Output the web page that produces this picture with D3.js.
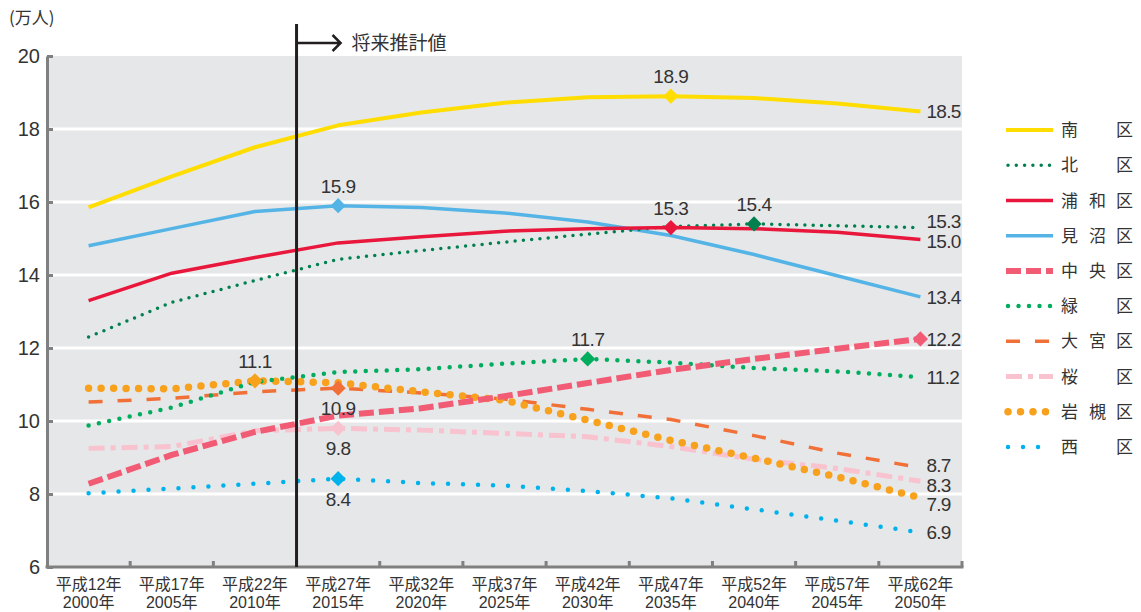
<!DOCTYPE html>
<html lang="ja">
<head>
<meta charset="utf-8">
<script src="https://cdn.jsdelivr.net/npm/d3@7/dist/d3.min.js"></script>
<style>
  html, body { margin: 0; padding: 0; background: #fff; }
  svg { display: block; font-family: "Noto Sans CJK JP", "Noto Sans", sans-serif; }
  .num { font-family: "Liberation Sans", "Noto Sans CJK JP", sans-serif; }
</style>
</head>
<body>
<svg id="chart" width="1141" height="612"></svg>
<script>
/* --- Data (万人) --- */
const years = ["2000", "2005", "2010", "2015", "2020", "2025", "2030", "2035", "2040", "2045", "2050"];
const heiseiLabels = ["平成12年", "平成17年", "平成22年", "平成27年", "平成32年", "平成37年", "平成42年", "平成47年", "平成52年", "平成57年", "平成62年"];
const yTicks = [6, 8, 10, 12, 14, 16, 18, 20];

const minami   = [15.85, 16.7, 17.5, 18.1, 18.45, 18.72, 18.87, 18.9, 18.85, 18.7, 18.48];
const kita     = [12.3, 13.25, 13.85, 14.43, 14.67, 14.9, 15.12, 15.33, 15.4, 15.35, 15.3];
const urawa    = [13.3, 14.05, 14.48, 14.88, 15.05, 15.2, 15.27, 15.3, 15.27, 15.17, 14.97];
const minuma   = [14.8, 15.27, 15.74, 15.9, 15.85, 15.7, 15.45, 15.08, 14.56, 13.98, 13.4];
const chuo     = [8.28, 9.07, 9.7, 10.15, 10.35, 10.68, 11.04, 11.4, 11.7, 11.98, 12.25];
const midori   = [9.88, 10.37, 11.07, 11.34, 11.42, 11.57, 11.7, 11.6, 11.45, 11.36, 11.2];
const omiya    = [10.52, 10.62, 10.8, 10.9, 10.77, 10.6, 10.32, 10.04, 9.6, 9.12, 8.72];
const sakura   = [9.25, 9.3, 9.73, 9.8, 9.75, 9.66, 9.57, 9.3, 8.95, 8.7, 8.35];
const iwatsuki = [10.9, 10.88, 11.1, 11.05, 10.8, 10.57, 10.02, 9.47, 8.98, 8.47, 7.9];
const nishi    = [8.02, 8.15, 8.28, 8.42, 8.3, 8.23, 8.08, 7.88, 7.58, 7.27, 6.95];

// legend name pieces (first, middle, last char)
const wardNames = [["南", "", "区"], ["北", "", "区"], ["浦", "和", "区"], ["見", "沼", "区"], ["中", "央", "区"],
                   ["緑", "", "区"], ["大", "宮", "区"], ["桜", "", "区"], ["岩", "槻", "区"], ["西", "", "区"]];

/* --- Series styles --- */
const series = [
  { values: minami,   color: "#ffdd00", width: 4,   dash: null,      cap: "butt",  peak: 7, peakPos: "above", end: "18.5", endDy: 0 },
  { values: kita,     color: "#00804f", width: 3.5, dash: "0 8.3",   cap: "round", peak: 8, peakPos: "above", end: "15.3", endDy: -6 },
  { values: urawa,    color: "#e8173b", width: 3.5, dash: null,      cap: "butt",  peak: 7, peakPos: "above", end: "15.0", endDy: 2 },
  { values: minuma,   color: "#55b4e6", width: 3.5, dash: null,      cap: "butt",  peak: 3, peakPos: "above", end: "13.4", endDy: 0 },
  { values: chuo,     color: "#f15b74", width: 6,   dash: "15 5",    cap: "butt",  peak: 10, peakPos: "right", end: "12.2", endDy: 0 },
  { values: midori,   color: "#00ad5e", width: 4.5, dash: "0 10.5",  cap: "round", peak: 6, peakPos: "above", end: "11.2", endDy: 0 },
  { values: omiya,    color: "#f07038", width: 3.5, dash: "14 15",   cap: "butt",  peak: 3, peakPos: "below", end: "8.7",  endDy: -2.5 },
  { values: sakura,   color: "#f8c2cf", width: 5,   dash: "16 6 5 6", cap: "butt", peak: 3, peakPos: "below", end: "8.3",  endDy: 4 },
  { values: iwatsuki, color: "#f7a11c", width: 7.5, dash: "0 12.5",  cap: "round", peak: 2, peakPos: "above", end: "7.9",  endDy: 7 },
  { values: nishi,    color: "#00b2ec", width: 4.5, dash: "0 15",    cap: "round", peak: 3, peakPos: "below", end: "6.9",  endDy: 0 }
];

/* --- Layout --- */
const svg = d3.select("#chart");
const plotLeft = 47, plotRight = 962, plotTop = 56, plotBottom = 567;
const textColor = "#333";

const x = d3.scaleBand().domain(years).range([plotLeft, plotRight]).padding(0);
const y = d3.scaleLinear().domain([6, 20]).range([plotBottom, plotTop]);
const cx = d => x(d) + x.bandwidth() / 2;

// plot background
svg.append("rect")
  .attr("x", plotLeft).attr("y", plotTop)
  .attr("width", plotRight - plotLeft).attr("height", plotBottom - plotTop)
  .attr("fill", "#e6e7e9");

// grid lines
svg.append("g").selectAll("line")
  .data(yTicks.filter(t => t > 6 && t < 20))
  .join("line")
  .attr("x1", plotLeft).attr("x2", plotRight)
  .attr("y1", d => y(d)).attr("y2", d => y(d))
  .attr("stroke", "#fff").attr("stroke-width", 3);

// y axis
const yAxis = svg.append("g")
  .attr("transform", `translate(${plotLeft},0)`)
  .call(d3.axisRight(y).tickValues(yTicks).tickSize(6).tickSizeOuter(0).tickFormat(""));
yAxis.select(".domain").attr("stroke", "#808080").attr("stroke-width", 3);
yAxis.selectAll(".tick line").attr("stroke", "#808080").attr("stroke-width", 3);

svg.append("g").selectAll("text")
  .data(yTicks)
  .join("text")
  .attr("class", "num")
  .attr("x", 40).attr("y", d => y(d))
  .attr("dy", "0.35em")
  .attr("text-anchor", "end")
  .attr("font-size", 20)
  .attr("fill", textColor)
  .text(d => d);

svg.append("text")
  .attr("x", 9).attr("y", 24)
  .attr("font-size", 17)
  .attr("fill", textColor)
  .text("(万人)");

// x axis (ticks on band boundaries, pointing up)
const bounds = years.map(d => x(d)).concat([plotRight]);
svg.append("g").selectAll("line")
  .data(bounds.slice(1))
  .join("line")
  .attr("x1", d => d).attr("x2", d => d)
  .attr("y1", plotBottom).attr("y2", plotBottom - 6)
  .attr("stroke", "#808080").attr("stroke-width", 3);
svg.append("line")
  .attr("x1", plotLeft - 1.5).attr("x2", plotRight + 1.5)
  .attr("y1", plotBottom).attr("y2", plotBottom)
  .attr("stroke", "#808080").attr("stroke-width", 3);

// two-line category labels
const xl = svg.append("g").selectAll("g")
  .data(years)
  .join("g")
  .attr("transform", d => `translate(${cx(d)},0)`);
xl.append("text")
  .attr("class", "num")
  .attr("y", 590).attr("text-anchor", "middle")
  .attr("font-size", 16).attr("fill", textColor)
  .text((d, i) => heiseiLabels[i]);
xl.append("text")
  .attr("class", "num")
  .attr("y", 608).attr("text-anchor", "middle")
  .attr("font-size", 16).attr("fill", textColor)
  .text(d => d + "年");

/* --- Lines (drawn back to front) --- */
const line = d3.line()
  .x((d, i) => cx(years[i]))
  .y(d => y(d));

const drawOrder = [9, 7, 6, 8, 5, 4, 3, 1, 2, 0];
drawOrder.forEach(k => {
  const s = series[k];
  svg.append("path")
    .datum(s.values)
    .attr("d", line)
    .attr("fill", "none")
    .attr("stroke", s.color)
    .attr("stroke-width", s.width)
    .attr("stroke-linecap", s.cap)
    .attr("stroke-linejoin", "round")
    .attr("stroke-dasharray", s.dash);
});

// forecast divider
const divX = x("2015");
svg.append("line")
  .attr("x1", divX).attr("x2", divX)
  .attr("y1", 24).attr("y2", plotBottom)
  .attr("stroke", "#231f20").attr("stroke-width", 3);
svg.append("path")
  .attr("d", `M${divX},43H${divX + 44}M${divX + 36},35L${divX + 44},43L${divX + 36},51`)
  .attr("fill", "none")
  .attr("stroke", "#231f20").attr("stroke-width", 2.5);
svg.append("text")
  .attr("x", divX + 55).attr("y", 50)
  .attr("font-size", 19).attr("fill", textColor)
  .text("将来推計値");

/* --- Peak markers & labels --- */
const diamond = d3.symbol().type(d3.symbolSquare).size(115);
series.forEach(s => {
  const px = cx(years[s.peak]);
  const v = s.values[s.peak];
  svg.append("path")
    .attr("d", diamond())
    .attr("transform", `translate(${px},${y(v)}) rotate(45)`)
    .attr("fill", s.color);
  if (s.peakPos === "right") return;
  svg.append("text")
    .attr("class", "num")
    .attr("x", px)
    .attr("y", s.peakPos === "above" ? y(v) - 13 : y(v) + 27)
    .attr("text-anchor", "middle")
    .attr("font-size", 19)
    .attr("letter-spacing", -0.5)
    .attr("fill", textColor)
    .text(d3.format(".1f")(Math.round(v * 10) / 10));
});

// end labels
series.forEach(s => {
  svg.append("text")
    .attr("class", "num")
    .attr("x", cx(years[years.length - 1]) + 6)
    .attr("y", y(s.values[s.values.length - 1]) + s.endDy)
    .attr("dy", "0.36em")
    .attr("font-size", 19)
    .attr("letter-spacing", -0.7)
    .attr("fill", textColor)
    .text(s.end);
});

/* --- Legend --- */
const legend = svg.append("g");
const legY = d3.scalePoint().domain(d3.range(series.length)).range([130, 447]);
series.forEach((s, i) => {
  const ly = legY(i);
  legend.append("line")
    .attr("x1", s.cap === "round" ? 1008 : 1006).attr("x2", 1053)
    .attr("y1", ly).attr("y2", ly)
    .attr("stroke", s.color)
    .attr("stroke-width", s.width)
    .attr("stroke-linecap", s.cap)
    .attr("stroke-dasharray", s.dash);
  const name = wardNames[i];
  [1061, 1089, 1116].forEach((lx, j) => {
    if (!name[j]) return;
    legend.append("text")
      .attr("x", lx).attr("y", ly)
      .attr("dy", "0.36em")
      .attr("font-size", 17)
      .attr("fill", textColor)
      .text(name[j]);
  });
});
</script>
</body>
</html>
